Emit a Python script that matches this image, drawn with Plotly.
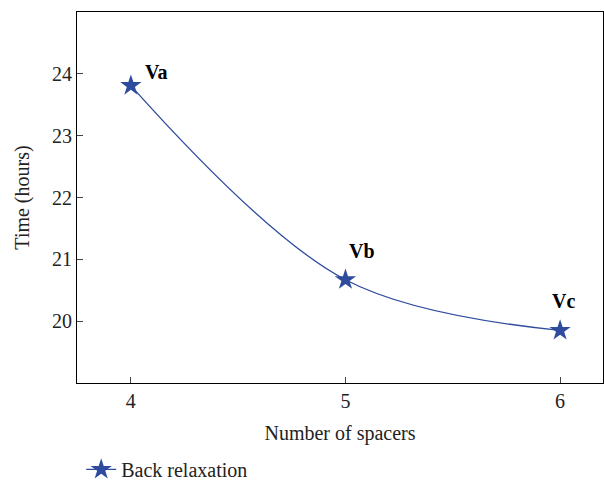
import plotly.graph_objects as go

spacers = [4, 5, 6]
time_hours = [23.81, 20.67, 19.85]
labels = ["Va", "Vb", "Vc"]
series_name = "Back relaxation"

color = "#2F4B9E"
font_family = "Liberation Serif, DejaVu Serif, serif"
fs = 20

fig = go.Figure()
fig.add_trace(go.Scatter(
    x=spacers, y=time_hours, mode="lines+markers", name=series_name,
    line=dict(color=color, width=1.3, shape="spline", smoothing=1.0),
    marker=dict(symbol="star", size=16, color=color),
))

offsets = [(26, -14), (17, -29), (3, -29)]
for xv, yv, lab, (dx, dy) in zip(spacers, time_hours, labels, offsets):
    fig.add_annotation(x=xv, y=yv, text=f"<b>{lab}</b>", showarrow=False,
                       xshift=dx, yshift=-dy, font=dict(size=fs, color="black", family=font_family))

fig.update_layout(
    width=604, height=489,
    margin=dict(l=77, r=1, t=12, b=105),
    plot_bgcolor="white", paper_bgcolor="white",
    font=dict(family=font_family, size=fs, color="#222"),
    showlegend=True,
    legend=dict(orientation="h", x=0.008, xanchor="left", y=-0.282, yanchor="bottom",
                font=dict(size=fs, family=font_family)),
    xaxis=dict(range=[3.749, 6.2], tickvals=spacers, ticks="inside", ticklen=6,
               tickfont=dict(size=fs, family=font_family),
               showgrid=False, zeroline=False, showline=True, linecolor="black",
               linewidth=1.2, mirror=True,
               title=dict(text="Number of spacers", standoff=14, font=dict(size=fs, family=font_family))),
    yaxis=dict(range=[19, 25], tickvals=[20, 21, 22, 23, 24], ticks="inside", ticklen=6,
               tickfont=dict(size=fs, family=font_family),
               showgrid=False, zeroline=False, showline=True, linecolor="black",
               linewidth=1.2, mirror=True,
               title=dict(text="Time (hours)", standoff=16, font=dict(size=fs, family=font_family))),
)

fig.write_html("out.html")
